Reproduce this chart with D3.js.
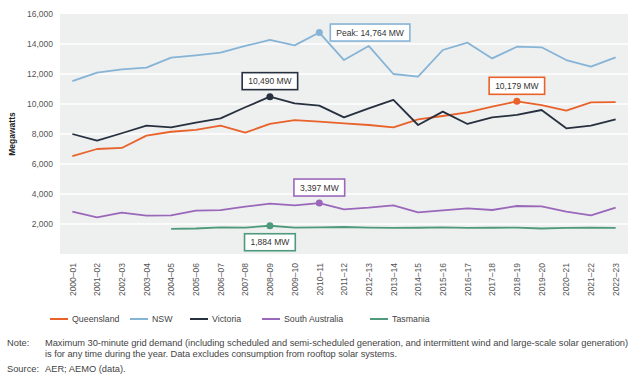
<!DOCTYPE html>
<html>
<head>
<meta charset="utf-8">
<script src="https://cdn.jsdelivr.net/npm/d3@7"></script>
<style>
  body { margin: 0; background: #fff; }
  svg { font-family: "Liberation Sans", Arial, sans-serif; }
</style>
</head>
<body>
<script>
// 年度
var years = ["2000–01","2001–02","2002–03","2003–04","2004–05","2005–06","2006–07","2007–08",
  "2008–09","2009–10","2010–11","2011–12","2012–13","2013–14","2014–15","2015–16","2016–17",
  "2017–18","2018–19","2019–20","2020–21","2021–22","2022–23"];

// 各州の最大需要 (MW)
var queensland = [6530,7000,7070,7890,8150,8270,8560,8090,8670,8930,8820,8710,8600,8440,8980,9200,9440,9820,10179,9930,9560,10110,10120];
var nsw = [11530,12090,12310,12420,13090,13240,13420,13870,14270,13910,14764,12930,13870,12000,11820,13600,14090,13040,13820,13780,12930,12490,13110];
var victoria = [8000,7560,8050,8560,8440,8760,9040,9780,10490,10040,9890,9110,9710,10270,8600,9490,8670,9110,9270,9600,8380,8560,8980];
var southAustralia = [2820,2440,2760,2560,2580,2890,2930,3160,3360,3240,3397,2980,3090,3244,2780,2910,3044,2933,3200,3180,2822,2580,3090];
var tasmania = [null,null,null,null,1680,1700,1780,1760,1884,1760,1780,1800,1760,1740,1750,1780,1740,1750,1760,1700,1740,1760,1740];

var yTicks = [2000,4000,6000,8000,10000,12000,14000,16000];

var series = [
  { name: "Queensland", values: queensland, color: "#e8622a" },
  { name: "NSW", values: nsw, color: "#86b4d6" },
  { name: "Victoria", values: victoria, color: "#27303f" },
  { name: "South Australia", values: southAustralia, color: "#9a68bb" },
  { name: "Tasmania", values: tasmania, color: "#4f9a7c" }
];

// 注記
var callouts = [
  { s: 1, i: 10, text: "Peak: 14,764 MW", pos: "right" },
  { s: 2, i: 8, text: "10,490 MW", pos: "above" },
  { s: 0, i: 18, text: "10,179 MW", pos: "above" },
  { s: 3, i: 10, text: "3,397 MW", pos: "above" },
  { s: 4, i: 8, text: "1,884 MW", pos: "below" }
];

var width = 634, height = 380;
var mLeft = 60, mRight = 628, mTop = 14, mBottom = 254;

var svg = d3.select("body").append("svg").attr("width", width).attr("height", height);

var x = d3.scalePoint().domain(years).range([mLeft, mRight]).padding(0.5);
var y = d3.scaleLinear().domain([0, 16000]).range([mBottom, mTop]);

// 背景
svg.append("rect").attr("x", mLeft).attr("y", mTop).attr("width", mRight - mLeft).attr("height", mBottom - mTop)
  .attr("fill", "#eeefef");

// グリッド線
svg.selectAll(".grid").data(yTicks.slice(0, -1)).enter().append("line")
  .attr("x1", mLeft).attr("x2", mRight)
  .attr("y1", function (d) { return y(d); }).attr("y2", function (d) { return y(d); })
  .attr("stroke", "#fff").attr("stroke-width", 1.5);

// Y軸
var yAxis = svg.append("g").attr("transform", "translate(" + mLeft + ",0)")
  .call(d3.axisLeft(y).tickValues(yTicks).tickSize(0).tickPadding(7).tickFormat(d3.format(",")));
yAxis.select(".domain").remove();
yAxis.selectAll("text").attr("font-size", 8.5).attr("fill", "#555").attr("font-family", "Liberation Sans, Arial, sans-serif");

// X軸
var xAxis = svg.append("g").attr("transform", "translate(0," + mBottom + ")")
  .call(d3.axisBottom(x).tickSize(0).tickPadding(0));
xAxis.select(".domain").remove();
xAxis.selectAll("text")
  .attr("font-size", 8.5).attr("fill", "#555").attr("font-family", "Liberation Sans, Arial, sans-serif")
  .attr("text-anchor", "end").attr("dy", "0.32em")
  .attr("transform", "translate(0,9) rotate(-90)").attr("x", 0).attr("y", 0);

// Y軸タイトル
svg.append("text").attr("transform", "translate(15,134) rotate(-90)")
  .attr("text-anchor", "middle").attr("font-size", 8.5).attr("font-weight", "bold").attr("fill", "#222")
  .text("Megawatts");

// 線
var line = d3.line()
  .defined(function (d) { return d != null; })
  .x(function (d, i) { return x(years[i]); })
  .y(function (d) { return y(d); });

svg.selectAll(".series").data(series).enter().append("path")
  .attr("d", function (d) { return line(d.values); })
  .attr("fill", "none")
  .attr("stroke", function (d) { return d.color; })
  .attr("stroke-width", 1.8)
  .attr("stroke-linejoin", "round");

// 注記ボックス
callouts.forEach(function (c) {
  var s = series[c.s];
  var px = x(years[c.i]), py = y(s.values[c.i]);
  svg.append("circle").attr("cx", px).attr("cy", py).attr("r", 3.5).attr("fill", s.color);
  var g = svg.append("g");
  var t = g.append("text").attr("font-size", 8.5).attr("fill", "#333").text(c.text);
  var w = t.node().getComputedTextLength() + 12, h = 17;
  var bx, by;
  if (c.pos === "right") { bx = px + 11; by = py - h / 2; }
  else if (c.pos === "above") { bx = px - w / 2; by = py - 24; }
  else { bx = px - w / 2; by = py + 8; }
  g.insert("rect", "text").attr("x", bx).attr("y", by).attr("width", w).attr("height", h)
    .attr("fill", "#fff").attr("stroke", s.color).attr("stroke-width", 1.6);
  t.attr("x", bx + 6).attr("y", by + h / 2).attr("dy", "0.35em");
});

// 凡例
var legendX = [50, 130, 190, 262, 370];
var legend = svg.selectAll(".legend").data(series).enter().append("g")
  .attr("transform", function (d, i) { return "translate(" + legendX[i] + ",319)"; });
legend.append("line").attr("x1", 0).attr("x2", 18).attr("stroke", function (d) { return d.color; }).attr("stroke-width", 2);
legend.append("text").attr("x", 22).attr("dy", "0.35em").attr("font-size", 8.8).attr("fill", "#444")
  .text(function (d) { return d.name; });

// 注・出典
var notes = svg.append("g").attr("font-size", 9.3).attr("fill", "#444");
notes.append("text").attr("x", 7).attr("y", 346).text("Note:");
notes.append("text").attr("x", 45).attr("y", 346).attr("textLength", 583).attr("lengthAdjust", "spacing")
  .text("Maximum 30-minute grid demand (including scheduled and semi-scheduled generation, and intermittent wind and large-scale solar generation)");
notes.append("text").attr("x", 45).attr("y", 357).attr("textLength", 352).attr("lengthAdjust", "spacing")
  .text("is for any time during the year. Data excludes consumption from rooftop solar systems.");
notes.append("text").attr("x", 7).attr("y", 372).text("Source:");
notes.append("text").attr("x", 45).attr("y", 372).text("AER; AEMO (data).");
</script>
</body>
</html>
